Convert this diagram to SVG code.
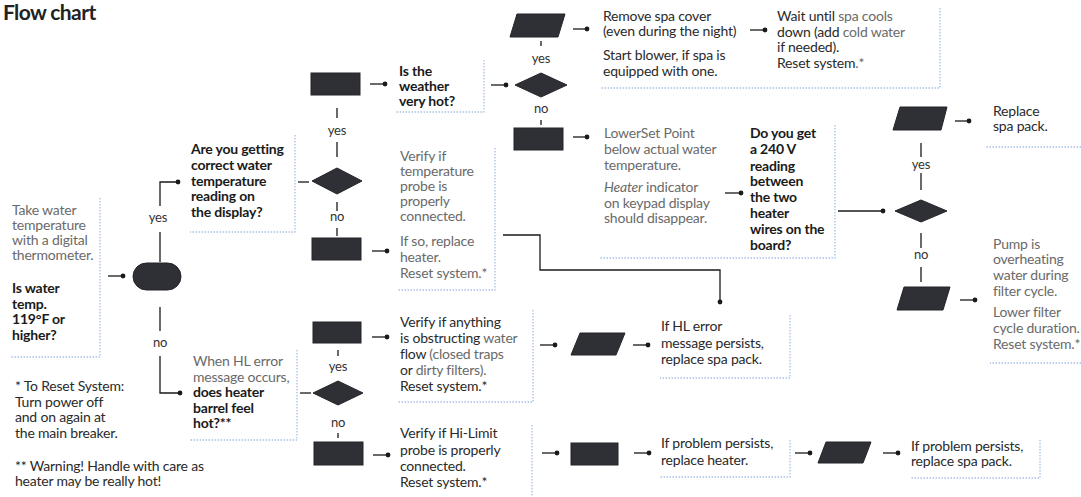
<svg xmlns="http://www.w3.org/2000/svg" width="1081" height="497" viewBox="0 0 1081 497">
<style>
text{font-family:Lato,"Open Sans","Liberation Sans",sans-serif;font-size:14px;fill:#2a2a2a;letter-spacing:-0.2px}
.g{fill:#6a6a6a}
.b{font-weight:bold;fill:#1a1a1a}
.lbl{fill:#333;text-anchor:middle;font-size:13px}
.shape{fill:#2f2f36;stroke:#25252b;stroke-width:1}
.box{fill:none;stroke:#a9c1e6;stroke-width:1.3;stroke-dasharray:1.5 1.5}
.conn{fill:none;stroke:#1a1a1a;stroke-width:1.3}
.title{font-size:21px;font-weight:bold;fill:#222;letter-spacing:-0.6px}
</style>
<defs>
<marker id="dot" viewBox="0 0 6 6" refX="3" refY="3" markerWidth="6" markerHeight="6" markerUnits="userSpaceOnUse">
<circle cx="3" cy="3" r="2.4" fill="#1a1a1a"/>
</marker>
</defs>
<rect width="1081" height="497" fill="#ffffff"/>
<text x="3" y="20" class="title">Flow chart</text>

<g id="borders">
<path class="box" d="M100,198 V357 H10"/>
<path class="box" d="M295,135 V232 H190"/>
<path class="box" d="M484,60 V112 H395"/>
<path class="box" d="M495,148 V290 H398"/>
<path class="box" d="M940,8 V88 H600"/>
<path class="box" d="M835,125 V258 H600"/>
<path class="box" d="M1081,147 H985"/>
<path class="box" d="M1081,363 H990"/>
<path class="box" d="M297,350 V440 H190"/>
<path class="box" d="M533,310 V402 H398"/>
<path class="box" d="M790,315 V378 H660"/>
<path class="box" d="M532,425 V497"/>
<path class="box" d="M790,440 V477 H660"/>
<path class="box" d="M1040,440 V478 H910"/>
</g>

<g id="connectors">
<path class="conn" d="M108,276 H123" marker-end="url(#dot)"/>
<path class="conn" d="M160,262 V232"/>
<path class="conn" d="M160,206 V182 H178" marker-end="url(#dot)"/>
<path class="conn" d="M160,307 V331"/>
<path class="conn" d="M160,356 V393 H180" marker-end="url(#dot)"/>
<path class="conn" d="M298,182 H309"/>
<path class="conn" d="M337,108 V118"/>
<path class="conn" d="M337,142 V157"/>
<path class="conn" d="M337,202 V211"/>
<path class="conn" d="M337,228 V236"/>
<path class="conn" d="M370,84 H385" marker-end="url(#dot)"/>
<path class="conn" d="M372,251 H387" marker-end="url(#dot)"/>
<path class="conn" d="M491,85 H506" marker-end="url(#dot)"/>
<path class="conn" d="M541,41 V46"/>
<path class="conn" d="M541,120 V125"/>
<path class="conn" d="M573,29 H587" marker-end="url(#dot)"/>
<path class="conn" d="M573,137 H587" marker-end="url(#dot)"/>
<path class="conn" d="M750,30 H765" marker-end="url(#dot)"/>
<path class="conn" d="M725,193 H741" marker-end="url(#dot)"/>
<path class="conn" d="M838,211 H883" marker-end="url(#dot)"/>
<path class="conn" d="M921,143 V157"/>
<path class="conn" d="M921,173 V190"/>
<path class="conn" d="M921,233 V248"/>
<path class="conn" d="M921,267 V282"/>
<path class="conn" d="M955,121 H969" marker-end="url(#dot)"/>
<path class="conn" d="M960,300 H975" marker-end="url(#dot)"/>
<path class="conn" d="M503,235 H540 V270 H720 V302" marker-end="url(#dot)"/>
<path class="conn" d="M300,393 H311"/>
<path class="conn" d="M338,350 V356"/>
<path class="conn" d="M338,433 V438"/>
<path class="conn" d="M372,337 H387" marker-end="url(#dot)"/>
<path class="conn" d="M373,455 H388" marker-end="url(#dot)"/>
<path class="conn" d="M540,345 H555" marker-end="url(#dot)"/>
<path class="conn" d="M633,345 H648" marker-end="url(#dot)"/>
<path class="conn" d="M542,453 H557" marker-end="url(#dot)"/>
<path class="conn" d="M634,453 H649" marker-end="url(#dot)"/>
<path class="conn" d="M795,453 H810" marker-end="url(#dot)"/>
<path class="conn" d="M883,453 H898" marker-end="url(#dot)"/>
<text class="lbl" x="158" y="222">yes</text>
<text class="lbl" x="160" y="347">no</text>
<text class="lbl" x="337" y="135">yes</text>
<text class="lbl" x="337" y="221">no</text>
<text class="lbl" x="541" y="63">yes</text>
<text class="lbl" x="541" y="113">no</text>
<text class="lbl" x="921" y="169">yes</text>
<text class="lbl" x="921" y="259">no</text>
<text class="lbl" x="338" y="371">yes</text>
<text class="lbl" x="338" y="427">no</text>
</g>

<g id="n-take-water">
<text x="12" y="215" class="g">Take water</text>
<text x="12" y="230" class="g">temperature</text>
<text x="12" y="245" class="g">with a digital</text>
<text x="12" y="260" class="g">thermometer.</text>
<text x="12" y="293" class="b">Is water</text>
<text x="12" y="309" class="b">temp.</text>
<text x="12" y="324" class="b">119°F or</text>
<text x="12" y="340" class="b">higher?</text>
</g>
<g id="n-start"><rect class="shape" x="133" y="263" width="48" height="27" rx="13.5"/></g>

<g id="n-correct-temp">
<text x="191" y="154" class="b">Are you getting</text>
<text x="191" y="170" class="b">correct water</text>
<text x="191" y="186" class="b">temperature</text>
<text x="191" y="201" class="b">reading on</text>
<text x="191" y="217" class="b">the display?</text>
</g>
<g id="n-dec1"><polygon class="shape" points="312,181 337,168 362,181 337,194"/></g>
<g id="n-yes1"><rect class="shape" x="311" y="73" width="49" height="22"/></g>
<g id="n-no1"><rect class="shape" x="312" y="238" width="49" height="22"/></g>

<g id="n-weather">
<text x="399" y="76" class="b">Is the</text>
<text x="399" y="91" class="b">weather</text>
<text x="399" y="106" class="b">very hot?</text>
</g>
<g id="n-dec2"><polygon class="shape" points="515,85 541,73 567,85 541,97"/></g>
<g id="n-yes2"><polygon class="shape" points="517,14 565,14 558,37 510,37"/></g>
<g id="n-no2"><rect class="shape" x="514" y="128" width="49" height="22"/></g>

<g id="n-remove-cover">
<text x="603" y="21">Remove spa cover</text>
<text x="603" y="36">(even during the night)</text>
<text x="603" y="60">Start blower, if spa is</text>
<text x="603" y="76">equipped with one.</text>
</g>
<g id="n-wait">
<text x="777" y="21">Wait until <tspan class="g">spa cools</tspan></text>
<text x="777" y="37">down (add <tspan class="g">cold water</tspan></text>
<text x="777" y="52">if needed).</text>
<text x="777" y="68">Reset system<tspan class="g">.*</tspan></text>
</g>

<g id="n-verify-probe">
<text x="400" y="161" class="g">Verify if</text>
<text x="400" y="176" class="g">temperature</text>
<text x="400" y="191" class="g">probe is</text>
<text x="400" y="206" class="g">properly</text>
<text x="400" y="221" class="g">connected.</text>
<text x="400" y="246" class="g">If so, replace</text>
<text x="400" y="262" class="g">heater.</text>
<text x="400" y="278" class="g">Reset system.*</text>
</g>

<g id="n-lower-setpoint">
<text x="604" y="138" class="g">LowerSet Point</text>
<text x="604" y="154" class="g">below actual water</text>
<text x="604" y="170" class="g">temperature.</text>
<text x="604" y="192" class="g"><tspan font-style="italic">Heater</tspan> indicator</text>
<text x="604" y="208" class="g">on keypad display</text>
<text x="604" y="223" class="g">should disappear.</text>
</g>
<g id="n-240v">
<text x="750" y="138" class="b">Do you get</text>
<text x="750" y="154" class="b">a 240 V</text>
<text x="750" y="171" class="b">reading</text>
<text x="750" y="186" class="b">between</text>
<text x="750" y="202" class="b">the two</text>
<text x="750" y="218" class="b">heater</text>
<text x="750" y="234" class="b">wires on the</text>
<text x="750" y="250" class="b">board?</text>
</g>
<g id="n-dec3"><polygon class="shape" points="895,211 921,200 947,211 921,222"/></g>
<g id="n-yes3"><polygon class="shape" points="900,107 947,107 941,130 893,130"/></g>
<g id="n-no3"><polygon class="shape" points="904,287 950,287 943,310 897,310"/></g>
<g id="n-replace-pack">
<text x="993" y="116">Replace</text>
<text x="993" y="131">spa pack.</text>
</g>
<g id="n-pump">
<text x="993" y="249" class="g">Pump is</text>
<text x="993" y="264" class="g">overheating</text>
<text x="993" y="280" class="g">water during</text>
<text x="993" y="296" class="g">filter cycle.</text>
<text x="993" y="317" class="g">Lower filter</text>
<text x="993" y="333" class="g">cycle duration.</text>
<text x="993" y="349" class="g">Reset system.*</text>
</g>

<g id="n-hl-error">
<text x="193" y="366" class="g">When HL error</text>
<text x="193" y="382" class="g">message occurs,</text>
<text x="193" y="397" class="b">does heater</text>
<text x="193" y="413" class="b">barrel feel</text>
<text x="193" y="428" class="b">hot?**</text>
</g>
<g id="n-dec4"><polygon class="shape" points="313,393 338,381 363,393 338,405"/></g>
<g id="n-yes4"><rect class="shape" x="313" y="322" width="48" height="21"/></g>
<g id="n-no4"><rect class="shape" x="314" y="442" width="49" height="23"/></g>

<g id="n-obstruct">
<text x="400" y="327">Verify if anything</text>
<text x="400" y="343">is obstructing <tspan class="g">water</tspan></text>
<text x="400" y="359">flow <tspan class="g">(closed traps</tspan></text>
<text x="400" y="375">or <tspan class="g">dirty filters).</tspan></text>
<text x="400" y="391">Reset system.*</text>
</g>
<g id="n-p5"><polygon class="shape" points="580,333 625,333 616,355 571,355"/></g>
<g id="n-hl-persists">
<text x="661" y="331">If HL error</text>
<text x="661" y="348">message persists,</text>
<text x="661" y="364">replace spa pack.</text>
</g>

<g id="n-hilimit">
<text x="400" y="438">Verify if Hi-Limit</text>
<text x="400" y="455">probe is properly</text>
<text x="400" y="471">connected.</text>
<text x="400" y="487">Reset system.*</text>
</g>
<g id="n-r6"><rect class="shape" x="571" y="443" width="47" height="22"/></g>
<g id="n-persist-heater">
<text x="661" y="448">If problem persists,</text>
<text x="661" y="465">replace heater.</text>
</g>
<g id="n-p7"><polygon class="shape" points="826,442 871,442 863,463 818,463"/></g>
<g id="n-persist-pack">
<text x="911" y="451">If problem persists,</text>
<text x="911" y="466">replace spa pack.</text>
</g>

<g id="notes">
<text x="15" y="391">* To Reset System:</text>
<text x="15" y="407">Turn power off</text>
<text x="15" y="422">and on again at</text>
<text x="15" y="438">the main breaker.</text>
<text x="15" y="471">** Warning! Handle with care as</text>
<text x="15" y="486">heater may be really hot!</text>
</g>
</svg>
